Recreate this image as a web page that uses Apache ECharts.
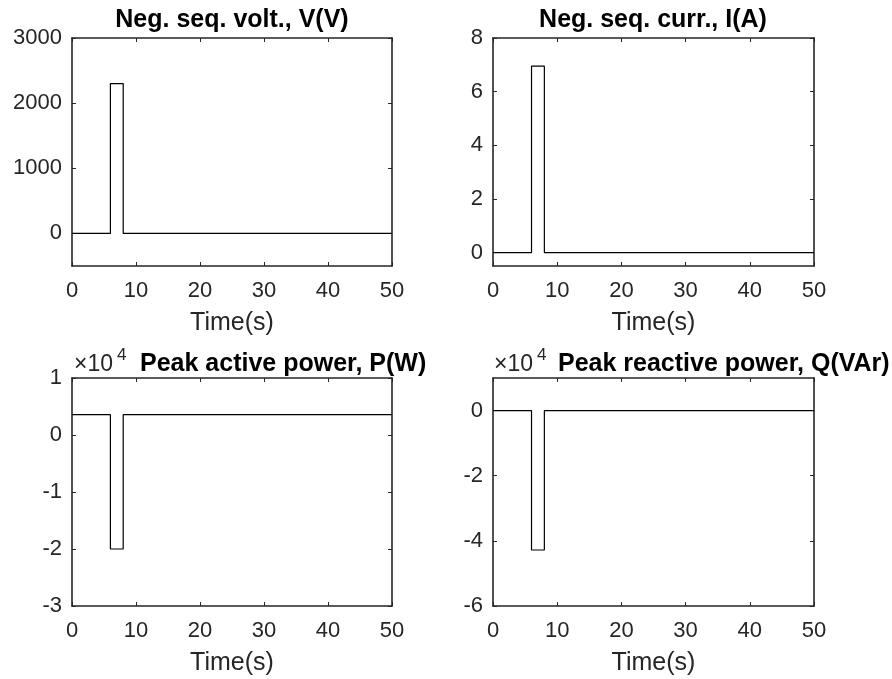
<!DOCTYPE html>
<html>
<head>
<meta charset="utf-8">
<script src="https://cdn.jsdelivr.net/npm/echarts@6/dist/echarts.min.js"></script>
<style>
html,body{margin:0;padding:0;background:#fff;}
#chart{width:892px;height:679px;}
</style>
</head>
<body>
<div id="chart"></div>
<script>
// ---- data ----
const timePts = [0, 6, 6, 8, 8, 50];
const negSeqVolt = [0, 0, 2300, 2300, 0, 0];
const negSeqCurr = [0, 0, 6.95, 6.95, 0, 0];
const peakActiveP = [3560, 3560, -20000, -20000, 3560, 3560];
const peakReactiveQ = [0, 0, -42800, -42800, 0, 0];

const xTicks = [0, 10, 20, 30, 40, 50];
const voltTicks = [0, 1000, 2000, 3000];
const currTicks = [0, 2, 4, 6, 8];
const pTicks = [-30000, -20000, -10000, 0, 10000];
const qTicks = [-60000, -40000, -20000, 0];

const titles = ['Neg. seq. volt., V(V)', 'Neg. seq. curr., I(A)', 'Peak active power, P(W)', 'Peak reactive power, Q(VAr)'];
const xName = 'Time(s)';

// ---- styling ----
const FONT = '"Liberation Sans", Arial, Helvetica, sans-serif';
const AX = '#262626';
const grids = [
  {left: 72, top: 38, width: 320, height: 228},
  {left: 493, top: 38, width: 321, height: 228},
  {left: 72, top: 378, width: 320, height: 228},
  {left: 493, top: 378, width: 321, height: 228}
];
const panels = [
  {vals: negSeqVolt, min: -500, max: 3000, ticks: voltTicks, fmt: v => String(v)},
  {vals: negSeqCurr, min: -0.5, max: 8, ticks: currTicks, fmt: v => String(v)},
  {vals: peakActiveP, min: -30000, max: 10000, ticks: pTicks, fmt: v => String(Math.round(v / 1e4))},
  {vals: peakReactiveQ, min: -60000, max: 10000, ticks: qTicks, fmt: v => String(Math.round(v / 1e4))}
];

const axisLine = {show: true, onZero: false, lineStyle: {color: AX, width: 1.6}};
const xAxis = [], yAxis = [], series = [];
panels.forEach((p, i) => {
  xAxis.push({
    type: 'value', gridIndex: i, position: 'bottom', min: 0, max: 50,
    axisLine: axisLine,
    axisTick: {show: true, inside: true, length: 4, customValues: xTicks, lineStyle: {color: AX, width: 1}},
    axisLabel: {show: true, customValues: xTicks, margin: 14, color: AX, fontSize: 22, fontFamily: FONT},
    splitLine: {show: false},
    name: xName, nameLocation: 'middle', nameGap: 45,
    nameTextStyle: {color: AX, fontSize: 25, fontFamily: FONT}
  });
  xAxis.push({
    type: 'value', gridIndex: i, position: 'top', min: 0, max: 50,
    axisLine: axisLine,
    axisTick: {show: true, inside: true, length: 4, customValues: xTicks, lineStyle: {color: AX, width: 1}},
    axisLabel: {show: false},
    splitLine: {show: false}
  });
  yAxis.push({
    type: 'value', gridIndex: i, position: 'left', min: p.min, max: p.max,
    axisLine: axisLine,
    axisTick: {show: true, inside: true, length: 4, customValues: p.ticks, lineStyle: {color: AX, width: 1}},
    axisLabel: {show: true, customValues: p.ticks, margin: 10, color: AX, fontSize: 22, fontFamily: FONT, formatter: p.fmt},
    splitLine: {show: false}
  });
  yAxis.push({
    type: 'value', gridIndex: i, position: 'right', min: p.min, max: p.max,
    axisLine: axisLine,
    axisTick: {show: true, inside: true, length: 4, customValues: p.ticks, lineStyle: {color: AX, width: 1}},
    axisLabel: {show: false},
    splitLine: {show: false}
  });
  series.push({
    type: 'line', xAxisIndex: 2 * i, yAxisIndex: 2 * i,
    data: timePts.map((t, k) => [t, p.vals[k]]),
    showSymbol: false, symbol: 'none', animation: false,
    lineStyle: {color: '#000', width: 1.2}
  });
});

const titleStyle = {fill: '#000', fontSize: 25, fontWeight: 'bold', fontFamily: FONT, verticalAlign: 'middle'};
const graphic = [
  {type: 'text', x: 232, y: 20, style: Object.assign({}, titleStyle, {text: titles[0], align: 'center'})},
  {type: 'text', x: 653, y: 20, style: Object.assign({}, titleStyle, {text: titles[1], align: 'center'})},
  {type: 'text', x: 140, y: 364, style: Object.assign({}, titleStyle, {text: titles[2], align: 'left'})},
  {type: 'text', x: 558, y: 364, style: Object.assign({}, titleStyle, {text: titles[3], align: 'left'})}
];
[[74, 365], [494, 365]].forEach(([x, y]) => {
  graphic.push({type: 'text', x: x, y: y, style: {text: '\u00d710', fill: AX, fontSize: 23, fontFamily: FONT, align: 'left', verticalAlign: 'middle'}});
  graphic.push({type: 'text', x: x + 43, y: y - 10, style: {text: '4', fill: AX, fontSize: 17, fontFamily: FONT, align: 'left', verticalAlign: 'middle'}});
});

const chart = echarts.init(document.getElementById('chart'), null, {renderer: 'canvas'});
chart.setOption({
  animation: false,
  backgroundColor: '#fff',
  grid: grids,
  xAxis: xAxis,
  yAxis: yAxis,
  series: series,
  graphic: graphic
});
</script>
</body>
</html>
